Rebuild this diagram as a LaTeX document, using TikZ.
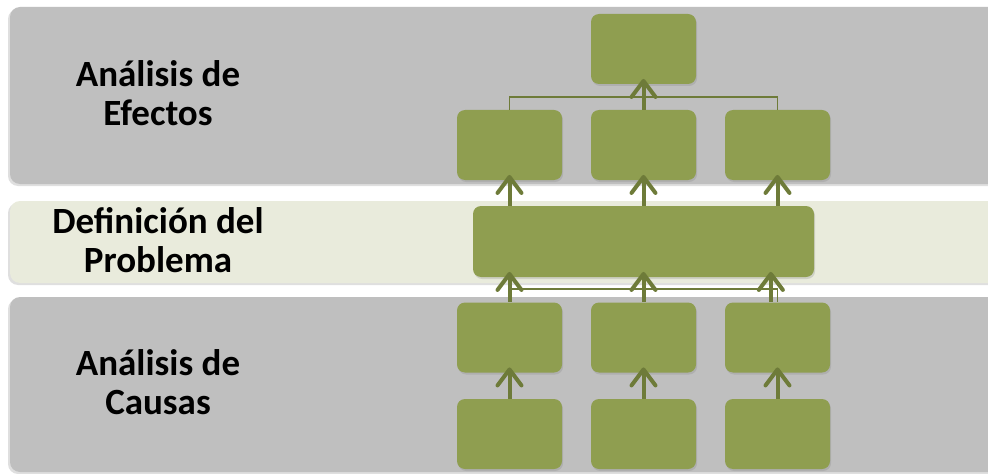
\documentclass[tikz,border=0pt]{standalone}
\usepackage{fontspec}
\setmainfont{Carlito}
\usetikzlibrary{arrows.meta,shadows}
\definecolor{bandGray}{HTML}{BFBFBF}
\definecolor{bandLight}{HTML}{E9EBDC}
\definecolor{boxGreen}{HTML}{8F9E50}
\definecolor{arrowGreen}{HTML}{6E7B39}
\begin{document}
\begin{tikzpicture}[x=0.75pt,y=-0.75pt,
    band/.style={rounded corners=7.5pt,drop shadow={shadow xshift=-1.5pt,shadow yshift=-1.5pt,opacity=0.25}},
    box/.style={rectangle,rounded corners=6pt,fill=boxGreen,inner sep=0pt,minimum width=78.75pt,minimum height=52.5pt,
        drop shadow={shadow xshift=0.8pt,shadow yshift=-1.5pt,opacity=0.25}},
    lbl/.style={align=center,font=\fontsize{27.75}{28.9}\selectfont\bfseries},
    up/.style={draw=arrowGreen,line width=3pt,shorten >=-4pt,-{Straight Barb[length=12pt,width=18pt,round]}},
    link/.style={draw=arrowGreen,line width=1.3pt}]
        \clip (0,0) rectangle (988,474);
        \fill[white] (0,0) rectangle (988,474);
        %bands
        \path[band,fill=bandGray] (10,7) rectangle (1010,184);
        \path[band,fill=bandLight] (10,201) rectangle (1010,283);
        \path[band,fill=bandGray] (10,297) rectangle (1010,472);

        \node at (158,93) [lbl] (lef) {Análisis de\\Efectos};
        \node at (158,240) [lbl] (lprob) {Definición del\\Problema};
        \node at (158,382) [lbl] (lca) {Análisis de\\Causas};

        %effects
        \node at (643.5,49) [box] (ef0) {};
        \node at (509.5,145) [box] (ef1) {};
        \node at (643.5,145) [box] (ef2) {};
        \node at (777.5,145) [box] (ef3) {};
        %problem
        \node at (643.5,241.5) [box,minimum width=255.75pt,minimum height=53.25pt] (prob) {};
        %causes
        \node at (509.5,337.5) [box] (ca1) {};
        \node at (643.5,337.5) [box] (ca2) {};
        \node at (777.5,337.5) [box] (ca3) {};
        \node at (509.5,434) [box] (cb1) {};
        \node at (643.5,434) [box] (cb2) {};
        \node at (777.5,434) [box] (cb3) {};

        \draw [link] (ef1.north) -- ++(0,-13) -| (ef3.north);
        \draw [link] (ca1.north) -- ++(0,-13) -| (ca3.north);

        \draw [up] (ef2.north) -- (ef0.south);
        \draw [up] (prob.north -| ef1) -- (ef1.south);
        \draw [up] (prob.north -| ef2) -- (ef2.south);
        \draw [up] (prob.north -| ef3) -- (ef3.south);
        \draw [up] (ca1.north) -- (ca1.north |- prob.south);
        \draw [up] (ca2.north) -- (ca2.north |- prob.south);
        \draw [up] ([xshift=-5pt]ca3.north) -- ([xshift=-5pt]ca3.north |- prob.south);
        \draw [up] (cb1.north) -- (ca1.south);
        \draw [up] (cb2.north) -- (ca2.south);
        \draw [up] (cb3.north) -- (ca3.south);
    \end{tikzpicture}
\end{document}
